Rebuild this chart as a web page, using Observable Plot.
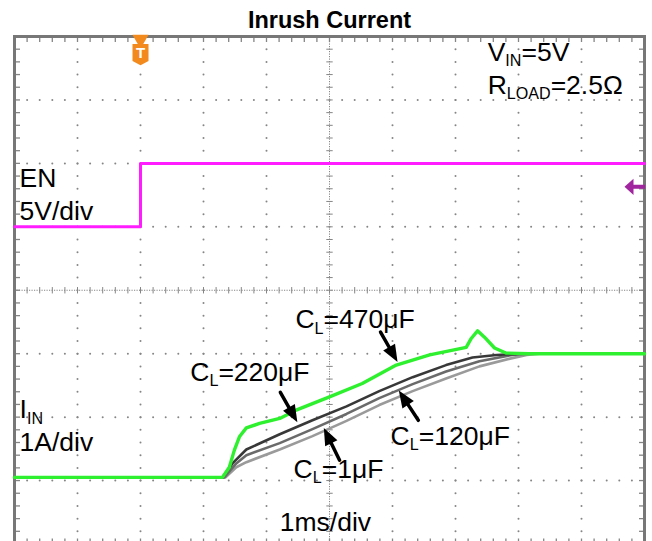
<!DOCTYPE html>
<html><head><meta charset="utf-8">
<script src="https://cdn.jsdelivr.net/npm/d3@7"></script>
<script src="https://cdn.jsdelivr.net/npm/@observablehq/plot@0.6"></script>
<style>
html,body{margin:0;padding:0;overflow:hidden;background:#fff;}
#chart svg{display:block;}
</style></head><body><div id="chart"></div>
<script>
// ---- scope settings ----
const timeDomain = [-2, 8];        // ms, 1 ms/div
const divDomain = [-4, 4];         // vertical divisions
const enVoltsPerDiv = 5, enOffsetDiv = 1;
const iAmpsPerDiv = 1, iOffsetDiv = -3;
const triggerTime = [0];
const triggerLevelVolts = [3.15];

// ---- EN trace (V) ----
const enTime  = [-2, 0, 0, 8];
const enVolts = [0, 0, 5, 5];

// ---- I_IN traces (A) ----
const c470Time = [-2, 1.30, 1.41, 1.49, 1.57, 1.68, 1.89, 2.21, 2.47, 3.00, 3.52, 4.06, 4.59, 5.17, 5.25, 5.35, 5.46, 5.62, 5.80, 6.17, 8];
const c470Amps = [0.05, 0.05, 0.21, 0.48, 0.69, 0.83, 0.90, 0.98, 1.11, 1.32, 1.53, 1.82, 1.98, 2.10, 2.24, 2.36, 2.26, 2.09, 2.01, 2.00, 2.00];
const c220Time = [-2, 1.30, 1.46, 1.68, 2.21, 2.73, 3.27, 3.79, 4.32, 4.85, 5.27, 5.65, 6.02, 8];
const c220Amps = [0.05, 0.05, 0.27, 0.49, 0.73, 0.95, 1.17, 1.41, 1.63, 1.82, 1.94, 1.98, 2.00, 2.00];
const c120Time = [-2, 1.33, 1.52, 1.68, 2.21, 2.73, 3.27, 3.79, 4.32, 4.85, 5.38, 5.90, 6.17, 8];
const c120Amps = [0.05, 0.05, 0.27, 0.40, 0.59, 0.81, 1.05, 1.30, 1.52, 1.72, 1.88, 1.98, 2.00, 2.00];
const c1Time = [-2, 1.35, 1.52, 1.68, 2.21, 2.73, 3.27, 3.79, 4.32, 4.85, 5.38, 5.90, 6.13, 6.33, 8];
const c1Amps = [0.05, 0.05, 0.21, 0.29, 0.49, 0.70, 0.94, 1.19, 1.41, 1.61, 1.80, 1.93, 1.98, 2.00, 2.00];

// ---- annotations ----
const labelText = ["V_{IN}=5V", "R_{LOAD}=2.5Ω", "EN", "5V/div", "I_{IN}", "1A/div", "C_{L}=470μF", "C_{L}=220μF", "C_{L}=120μF", "C_{L}=1μF", "1ms/div"];
const labelTime = [5.51, 5.51, -1.92, -1.92, -1.92, -1.92, 2.46, 0.79, 3.97, 2.43, 2.21];
const labelDiv  = [3.61, 3.09, 1.63, 1.11, -2.02, -2.54, -0.60, -1.43, -2.44, -2.96, -3.80];
const arrowTimeFrom = [3.81, 2.22, 4.41, 3.16];
const arrowAmpFrom  = [2.34, 1.39, 0.95, 0.32];
const arrowTimeTo   = [4.08, 2.49, 4.10, 2.91];
const arrowAmpTo    = [1.87, 0.92, 1.42, 0.83];
const title = "Inrush Current";

// ---- helpers ----
const enDiv = v => v / enVoltsPerDiv + enOffsetDiv;
const iDiv = a => a / iAmpsPerDiv + iOffsetDiv;
const trace = (t, vals, conv) => t.map((x, i) => ({t: x, d: conv(vals[i])}));

const W = 652, H = 545, mL = 14, mR = 8, mT = 36, mB = 1.5;
const pxPerMs = (W - mL - mR) / (timeDomain[1] - timeDomain[0]);
const pxPerDiv = (H - mT - mB) / (divDomain[1] - divDomain[0]);

const minorX = d3.range(0, 51).map(i => timeDomain[0] + i * 0.2);
const minorY = d3.range(0, 41).map(i => divDomain[0] + i * 0.2);
const majorX = d3.range(timeDomain[0] + 1, timeDomain[1]).filter(v => v !== 3);
const majorY = d3.range(divDomain[0] + 1, divDomain[1]).filter(v => v !== 0);
const gridDots = [];
for (const x of majorX) for (const y of minorY) gridDots.push({x, y});
for (const y of majorY) for (const x of minorX) gridDots.push({x, y});

const hTick = {draw(ctx, size){ const r = Math.sqrt(size/Math.PI); ctx.moveTo(-r,0); ctx.lineTo(r,0);} };
const vTick = {draw(ctx, size){ const r = Math.sqrt(size/Math.PI); ctx.moveTo(0,-r); ctx.lineTo(0,r);} };
const shield = {draw(ctx, size){ const r = Math.sqrt(size/Math.PI);
  ctx.moveTo(-r,-1.3*r); ctx.lineTo(r,-1.3*r); ctx.lineTo(r,0.8*r); ctx.lineTo(0,1.35*r); ctx.lineTo(-r,0.8*r); ctx.closePath(); } };
const leftMarker = {draw(ctx, size){ const r = Math.sqrt(size/Math.PI);
  ctx.moveTo(-r,0); ctx.lineTo(0,-0.9*r); ctx.lineTo(0,-0.22*r); ctx.lineTo(1.3*r,-0.22*r); ctx.lineTo(1.3*r,0.22*r); ctx.lineTo(0,0.22*r); ctx.lineTo(0,0.9*r); ctx.closePath(); } };
// arrow head with its tip at the origin, pointing up
const headTip = {draw(ctx, size){ const r = Math.sqrt(size/Math.PI);
  ctx.moveTo(0,0); ctx.lineTo(0.8*r, 2*r); ctx.lineTo(-0.8*r, 2*r); ctx.closePath(); } };

const arrows = arrowTimeFrom.map((_, i) => {
  const x1 = arrowTimeFrom[i], y1 = iDiv(arrowAmpFrom[i]);
  const x2 = arrowTimeTo[i], y2 = iDiv(arrowAmpTo[i]);
  const dx = (x2 - x1) * pxPerMs, dy = -(y2 - y1) * pxPerDiv;
  return {x1, y1, x2, y2, rot: Math.atan2(dx, -dy) * 180 / Math.PI};
});

const gridColor = "#858585";
const font = "Liberation Sans, Arial, Helvetica, sans-serif";

const plot = Plot.plot({
  width: W, height: H,
  marginLeft: mL, marginRight: mR, marginTop: mT, marginBottom: mB,
  x: {domain: timeDomain, axis: null},
  y: {domain: divDomain, axis: null},
  style: {fontFamily: font, background: "#fff"},
  marks: [
    // graticule
    Plot.dot(gridDots, {x: "x", y: "y", r: 1, fill: gridColor, stroke: "none"}),
    Plot.ruleX([3], {stroke: gridColor, strokeWidth: 1, strokeDasharray: "1.2,1.3"}),
    Plot.ruleY([0], {stroke: gridColor, strokeWidth: 1, strokeDasharray: "1.2,1.3"}),
    Plot.dot(minorY, {x: () => 3, y: d => d, symbol: hTick, r: 3.2, stroke: gridColor, fill: "none", strokeWidth: 1}),
    Plot.dot(minorX, {x: d => d, y: () => 0, symbol: vTick, r: 3.2, stroke: gridColor, fill: "none", strokeWidth: 1}),
    Plot.dot(minorY, {x: () => timeDomain[0], y: d => d, symbol: hTick, r: 2.5, dx: 3, stroke: gridColor, fill: "none", strokeWidth: 1.3}),
    Plot.dot(minorY, {x: () => timeDomain[1], y: d => d, symbol: hTick, r: 2.5, dx: -3, stroke: gridColor, fill: "none", strokeWidth: 1.3}),
    Plot.dot(minorX, {x: d => d, y: () => divDomain[1], symbol: vTick, r: 2.5, dy: 3, stroke: gridColor, fill: "none", strokeWidth: 1.3}),
    Plot.dot(minorX, {x: d => d, y: () => divDomain[0], symbol: vTick, r: 2.5, dy: -3, stroke: gridColor, fill: "none", strokeWidth: 1.3}),
    Plot.frame({stroke: "#777", strokeWidth: 3}),
    // traces
    Plot.line(trace(enTime, enVolts, enDiv), {x: "t", y: "d", stroke: "#ff1cff", strokeWidth: 3}),
    Plot.line(trace(c1Time, c1Amps, iDiv), {x: "t", y: "d", stroke: "#9a9a9a", strokeWidth: 2.6}),
    Plot.line(trace(c120Time, c120Amps, iDiv), {x: "t", y: "d", stroke: "#6a6a6a", strokeWidth: 2.6}),
    Plot.line(trace(c220Time, c220Amps, iDiv), {x: "t", y: "d", stroke: "#383838", strokeWidth: 2.6}),
    Plot.line(trace(c470Time, c470Amps, iDiv), {x: "t", y: "d", stroke: "#2ef02e", strokeWidth: 3.4}),
    // markers
    Plot.dot(triggerTime, {x: d => d, frameAnchor: "top", symbol: "triangle", rotate: 180, r: 6, dy: 3, fill: "#f28a1e", stroke: "none"}),
    Plot.dot(triggerTime, {x: d => d, frameAnchor: "top", symbol: shield, r: 8, dy: 18, fill: "#f28a1e", stroke: "none"}),
    Plot.text(triggerTime, {x: d => d, frameAnchor: "top", text: () => "T", dy: 17, fill: "#fff", fontWeight: "bold", fontSize: 15, lineAnchor: "middle"}),
    Plot.dot(triggerLevelVolts, {y: d => enDiv(d), frameAnchor: "right", symbol: leftMarker, r: 9, dx: -11, fill: "#a0259f", stroke: "none"}),
    // annotations
    Plot.arrow(arrows, {x1: "x1", y1: "y1", x2: "x2", y2: "y2", stroke: "#000", strokeWidth: 3.5, headLength: 0, insetEnd: 10}),
    Plot.dot(arrows, {x: "x2", y: "y2", rotate: "rot", symbol: headTip, r: 8.5, fill: "#000", stroke: "none"}),
    Plot.text(labelText, {x: (d, i) => labelTime[i], y: (d, i) => labelDiv[i], text: d => d,
      textAnchor: "start", lineAnchor: "bottom", fontSize: 26.5, fill: "#000"}),
    Plot.text([title], {frameAnchor: "top", text: d => d, dy: -9, lineAnchor: "bottom", fontSize: 23.5, fontWeight: "bold", fill: "#000"})
  ]
});

// render subscripts written as X_{sub}
plot.querySelectorAll("text").forEach(t => {
  const s = t.textContent;
  if (!s.includes("_{")) return;
  const fs = parseFloat(getComputedStyle(t).fontSize) || 26;
  const subFs = fs * 0.62, shift = fs * 0.2;
  t.textContent = "";
  const parts = s.split(/(_\{[^}]*\})/).filter(p => p.length);
  let lowered = false;
  for (const p of parts) {
    const ts = document.createElementNS("http://www.w3.org/2000/svg", "tspan");
    if (p.startsWith("_{")) {
      ts.textContent = p.slice(2, -1);
      ts.setAttribute("font-size", subFs);
      ts.setAttribute("dy", shift);
      lowered = true;
    } else {
      ts.textContent = p;
      if (lowered) { ts.setAttribute("dy", -shift); lowered = false; }
    }
    t.appendChild(ts);
  }
});
document.getElementById("chart").appendChild(plot);
</script>
</body></html>
